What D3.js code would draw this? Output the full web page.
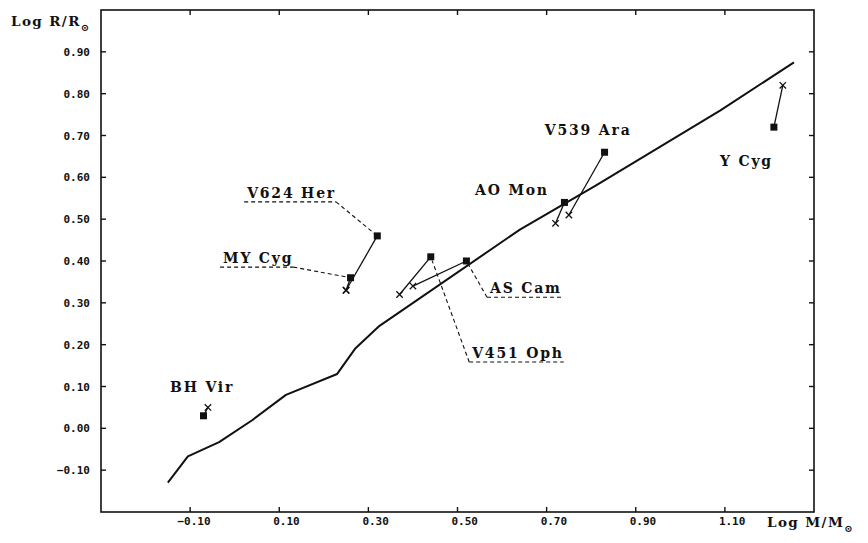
<!DOCTYPE html>
<html>
<head>
<meta charset="utf-8">
<script src="https://cdn.jsdelivr.net/npm/d3@7"></script>
<style>
  html, body { margin: 0; padding: 0; background: #fff; }
  svg { display: block; }
  .tick-label { font-family: "DejaVu Sans Mono", "Liberation Mono", monospace; font-weight: bold; font-size: 11px; fill: #111; }
  .star-label { font-family: "DejaVu Serif", "Liberation Serif", serif; font-weight: bold; font-size: 14px; letter-spacing: 1.8px; fill: #111; }
  .axis-title { font-family: "DejaVu Serif", "Liberation Serif", serif; font-weight: bold; font-size: 13.5px; letter-spacing: 1.4px; fill: #111; }
</style>
</head>
<body>
<svg id="chart" width="868" height="543"></svg>
<script>
// Evolutionary track: log R vs log M
const trackLogM = [-0.15, -0.105, -0.035, 0.04, 0.115, 0.23, 0.27, 0.325, 0.64, 0.81, 1.09, 1.255];
const trackLogR = [-0.13, -0.067, -0.033, 0.02, 0.08, 0.13, 0.19, 0.245, 0.475, 0.58, 0.76, 0.875];

// Binary components: observed (square) and model (cross)
const starNames = ["BH Vir", "MY Cyg", "V624 Her", "V451 Oph", "AS Cam", "AO Mon", "V539 Ara", "Y Cyg"];
const obsLogM = [-0.07, 0.26, 0.32, 0.44, 0.52, 0.74, 0.83, 1.21];
const obsLogR = [0.03, 0.36, 0.46, 0.41, 0.40, 0.54, 0.66, 0.72];
const modLogM = [-0.06, 0.25, 0.25, 0.37, 0.40, 0.72, 0.75, 1.23];
const modLogR = [0.05, 0.33, 0.33, 0.32, 0.34, 0.49, 0.51, 0.82];

// Axis ticks
const xTicks = [-0.10, 0.10, 0.30, 0.50, 0.70, 0.90, 1.10];
const yTicks = [-0.10, 0.00, 0.10, 0.20, 0.30, 0.40, 0.50, 0.60, 0.70, 0.80, 0.90];

// Label placement (data units): anchor point, optional dashed underline + leader to the square
const labelLayout = [
  { name: "BH Vir",   m: -0.145, r: 0.087, anchor: "start" },
  { name: "V624 Her", m: 0.028,  r: 0.551, anchor: "start", underline: true, leaderFrom: "end" },
  { name: "MY Cyg",   m: -0.026, r: 0.395, anchor: "start", underline: true, leaderFrom: "end" },
  { name: "AS Cam",   m: 0.573,  r: 0.323, anchor: "start", underline: true, leaderFrom: "start" },
  { name: "V451 Oph", m: 0.533,  r: 0.168, anchor: "start", underline: true, leaderFrom: "start" },
  { name: "AO Mon",   m: 0.705,  r: 0.558, anchor: "end" },
  { name: "V539 Ara", m: 0.696,  r: 0.701, anchor: "start" },
  { name: "Y Cyg",    m: 1.089,  r: 0.627, anchor: "start" }
];

const svg = d3.select("#chart");
const x = d3.scaleLinear().domain([-0.3, 1.3]).range([101, 814]);
const y = d3.scaleLinear().domain([-0.2, 1.0]).range([512, 10]);
const fmt = d3.format(".2f");
const ink = "#111";

// Frame
svg.append("rect")
  .attr("x", x(-0.3)).attr("y", y(1.0))
  .attr("width", x(1.3) - x(-0.3)).attr("height", y(-0.2) - y(1.0))
  .attr("fill", "none").attr("stroke", ink).attr("stroke-width", 1.6);

// Inward ticks on all four sides
const tickLen = 5;
const xt = svg.append("g").attr("stroke", ink).attr("stroke-width", 1.4);
xTicks.forEach(t => {
  xt.append("line").attr("x1", x(t)).attr("x2", x(t)).attr("y1", y(-0.2)).attr("y2", y(-0.2) - tickLen);
  xt.append("line").attr("x1", x(t)).attr("x2", x(t)).attr("y1", y(1.0)).attr("y2", y(1.0) + tickLen);
});
yTicks.forEach(t => {
  xt.append("line").attr("x1", x(-0.3)).attr("x2", x(-0.3) + tickLen).attr("y1", y(t)).attr("y2", y(t));
  xt.append("line").attr("x1", x(1.3)).attr("x2", x(1.3) - tickLen).attr("y1", y(t)).attr("y2", y(t));
});

// Tick labels
const charW = 11 * 0.602;
svg.append("g").selectAll("text").data(xTicks).join("text")
  .attr("class", "tick-label")
  .attr("x", d => x(d) - 6 - (d < 0 ? charW : 0))
  .attr("y", 525)
  .attr("text-anchor", "start")
  .text(d => fmt(d));
svg.append("g").selectAll("text").data(yTicks).join("text")
  .attr("class", "tick-label")
  .attr("x", 90)
  .attr("y", d => y(d) + 4)
  .attr("text-anchor", "end")
  .text(d => fmt(d));

// Axis titles
const yTitle = svg.append("text").attr("class", "axis-title").attr("x", 11).attr("y", 26);
yTitle.append("tspan").text("Log R/R");
yTitle.append("tspan").attr("font-size", "10px").attr("dy", 5).text("\u2299");
const xTitle = svg.append("text").attr("class", "axis-title").attr("x", 767).attr("y", 527);
xTitle.append("tspan").text("Log M/M");
xTitle.append("tspan").attr("font-size", "10px").attr("dy", 5).text("\u2299");

// Track
svg.append("path")
  .datum(d3.zip(trackLogM, trackLogR))
  .attr("d", d3.line().x(d => x(d[0])).y(d => y(d[1])))
  .attr("fill", "none").attr("stroke", ink).attr("stroke-width", 2)
  .attr("stroke-linejoin", "round");

// Connectors observed -> model
const stars = starNames.map((n, i) => ({ name: n, om: obsLogM[i], or: obsLogR[i], mm: modLogM[i], mr: modLogR[i] }));
svg.append("g").selectAll("line").data(stars).join("line")
  .attr("x1", d => x(d.om)).attr("y1", d => y(d.or))
  .attr("x2", d => x(d.mm)).attr("y2", d => y(d.mr))
  .attr("stroke", ink).attr("stroke-width", 1.3);

// Model crosses
const cs = 3.2;
const crossG = svg.append("g").attr("stroke", ink).attr("stroke-width", 1.3);
stars.forEach(d => {
  const cx = x(d.mm), cy = y(d.mr);
  crossG.append("path").attr("d", `M${cx - cs},${cy - cs}L${cx + cs},${cy + cs}M${cx - cs},${cy + cs}L${cx + cs},${cy - cs}`);
});

// Observed squares
const sq = 7;
svg.append("g").selectAll("rect").data(stars).join("rect")
  .attr("x", d => x(d.om) - sq / 2).attr("y", d => y(d.or) - sq / 2)
  .attr("width", sq).attr("height", sq).attr("fill", ink);

// Star labels with dashed leaders
const lg = svg.append("g");
labelLayout.forEach(l => {
  const t = lg.append("text").attr("class", "star-label")
    .attr("x", x(l.m)).attr("y", y(l.r)).attr("text-anchor", l.anchor).text(l.name);
  if (!l.underline) return;
  const w = t.node().getComputedTextLength();
  const x0 = x(l.m) - 3, x1 = x(l.m) + w, uy = y(l.r) + 4;
  const dash = "4,3";
  lg.append("line").attr("x1", x0).attr("x2", x1).attr("y1", uy).attr("y2", uy)
    .attr("stroke", ink).attr("stroke-width", 1.1).attr("stroke-dasharray", dash);
  const s = stars.find(d => d.name === l.name);
  const sx = x(s.om), sy = y(s.or);
  const fx = l.leaderFrom === "end" ? x1 : x0;
  const ang = Math.atan2(sy - uy, sx - fx);
  lg.append("line").attr("x1", fx).attr("y1", uy)
    .attr("x2", sx - Math.cos(ang) * 4).attr("y2", sy - Math.sin(ang) * 4)
    .attr("stroke", ink).attr("stroke-width", 1.1).attr("stroke-dasharray", dash);
});
</script>
</body>
</html>
